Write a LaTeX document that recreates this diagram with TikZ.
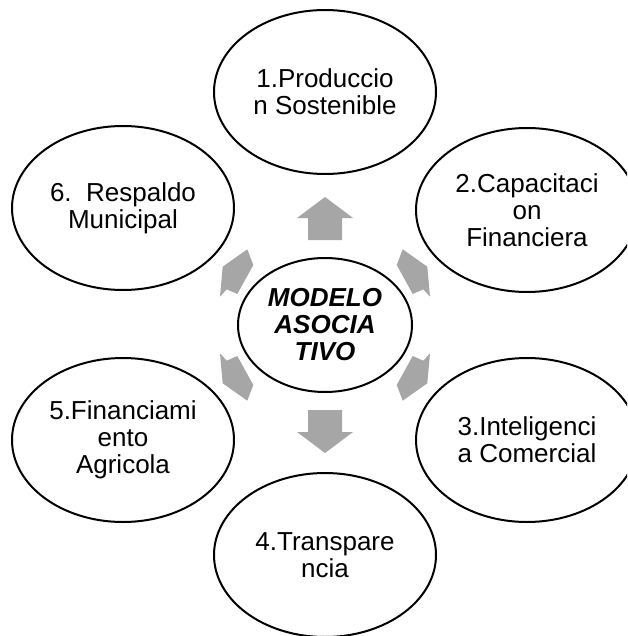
\documentclass[tikz,border=0pt]{standalone}
\usepackage{fontspec}
\setmainfont{Liberation Sans}
\usetikzlibrary{shapes.geometric}
\definecolor{arrowgray}{RGB}{166,166,166}
\tikzset{
    topic/.style={ellipse, draw, line width=1pt, minimum width=111pt, minimum height=82pt,
        inner sep=1pt, align=center, font=\fontsize{13}{13.5}\selectfont},
    core/.style={topic, minimum width=87pt, minimum height=67pt,
        font=\fontsize{13}{13.5}\selectfont\bfseries\itshape},
    blockarrow/.style={fill=arrowgray}
}
\begin{document}
\begin{tikzpicture}[x=0.5pt,y=-0.5pt]
        \useasboundingbox (0,0) rectangle (627,636);
        \clip (0,0) rectangle (627,636);
        % Draw outer topics
        \node[topic] (prod) at (325,92) {1.Produccio\\n Sostenible};
        \node[topic] (capa) at (527,210) {2.Capacitaci\\on\\Financiera};
        \node[topic] (intel) at (527,440) {3.Inteligenci\\a Comercial};
        \node[topic] (trans) at (325,555) {4.Transpare\\ncia};
        \node[topic] (finan) at (123,440) {5.Financiami\\ento\\Agricola};
        \node[topic] (resp) at (123,208) {6.\ \ Respaldo\\Municipal};
        % Draw core
        \node[core] (modelo) at (325,325) {MODELO\\ASOCIA\\TIVO};
        % Draw straight arrows
        \foreach \sy in {1,-1} {
            \begin{scope}[shift={(modelo.center)}, yscale=\sy]
                \fill[blockarrow] (0,-128) -- (28,-107) -- (17,-107) -- (17,-85)
                    -- (-17,-85) -- (-17,-107) -- (-28,-107) -- cycle;
            \end{scope}
        }
        % Draw slanted arrows
        \foreach \sx/\sy in {1/1, -1/1, 1/-1, -1/-1} {
            \begin{scope}[shift={(modelo.center)}, xscale=\sx, yscale=\sy]
                \fill[blockarrow] (77.7,-75.7) -- (102.3,-58.3) -- (105,-28.3) -- (98.3,-35.7)
                    -- (87.7,-31) -- (71.7,-60) -- cycle;
            \end{scope}
        }
\end{tikzpicture}
\end{document}
